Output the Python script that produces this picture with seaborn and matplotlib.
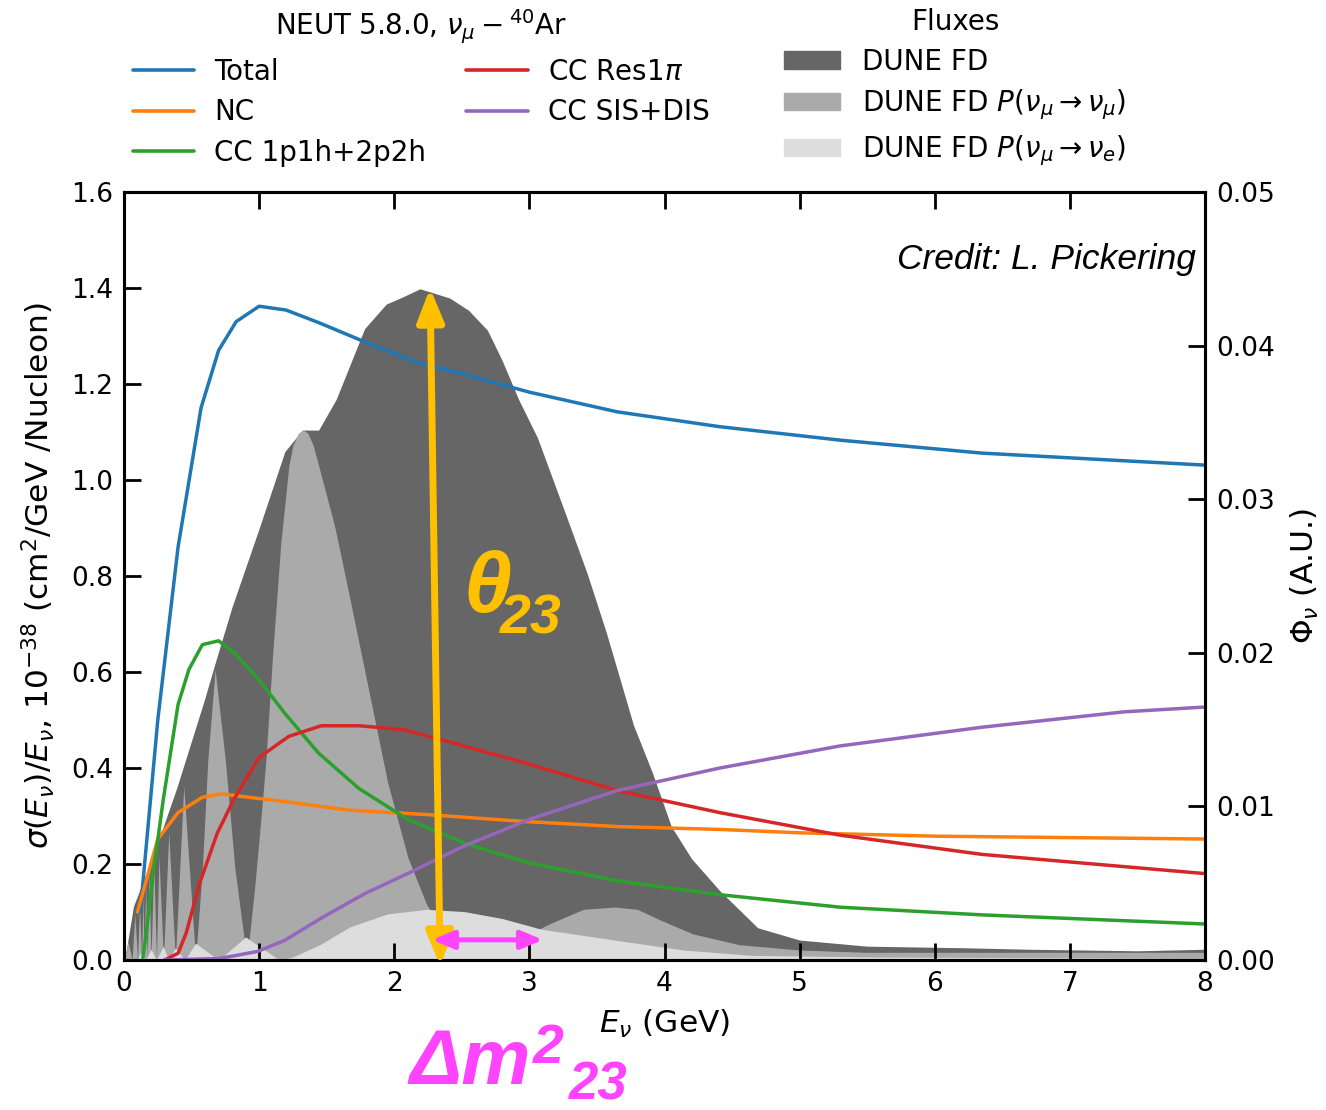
import numpy as np
import pandas as pd
import matplotlib.pyplot as plt
import seaborn as sns
from matplotlib.lines import Line2D
from matplotlib.patches import Patch

# cross sections (10^-38 cm^2/GeV/nucleon)
total_e = [0.12, 0.25, 0.40, 0.57, 0.70, 0.83, 1.00, 1.20, 1.44, 1.78, 2.15, 2.52, 3.00, 3.65, 4.41, 5.30, 6.35, 8.00]
total_v = [0.10, 0.50, 0.86, 1.15, 1.27, 1.33, 1.362, 1.354, 1.328, 1.288, 1.247, 1.22, 1.183, 1.142, 1.111, 1.083, 1.056, 1.031]

nc_e = [0.10, 0.25, 0.40, 0.58, 0.72, 1.19, 1.67, 2.24, 2.94, 3.65, 4.41, 5.00, 6.00, 8.00]
nc_v = [0.10, 0.252, 0.307, 0.339, 0.346, 0.33, 0.312, 0.303, 0.289, 0.278, 0.272, 0.265, 0.258, 0.252]

ccqe_e = [0.14, 0.17, 0.22, 0.25, 0.29, 0.40, 0.48, 0.58, 0.70, 0.82, 0.99, 1.19, 1.44, 1.74, 2.10, 2.52, 3.00, 3.65, 4.41, 5.30, 6.35, 8.00]
ccqe_v = [0.005, 0.069, 0.194, 0.25, 0.333, 0.532, 0.605, 0.657, 0.665, 0.639, 0.587, 0.514, 0.431, 0.357, 0.293, 0.243, 0.202, 0.165, 0.136, 0.11, 0.094, 0.075]

res_e = [0.30, 0.40, 0.46, 0.56, 0.69, 0.81, 1.00, 1.22, 1.46, 1.74, 2.07, 2.36, 3.00, 3.65, 4.41, 5.30, 6.35, 8.00]
res_v = [0.0, 0.014, 0.056, 0.16, 0.264, 0.333, 0.422, 0.466, 0.488, 0.488, 0.48, 0.458, 0.408, 0.353, 0.307, 0.26, 0.22, 0.18]

dis_e = [0.30, 0.70, 0.82, 0.99, 1.19, 1.47, 1.78, 2.12, 2.52, 3.00, 3.65, 4.41, 5.30, 6.35, 7.40, 8.00]
dis_v = [0.0, 0.003, 0.009, 0.018, 0.041, 0.089, 0.138, 0.183, 0.238, 0.293, 0.353, 0.40, 0.446, 0.485, 0.517, 0.527]

# fluxes (A.U.)
fd_e = [0.0, 0.02, 0.07, 0.22, 0.39, 0.59, 0.68, 0.80, 1.00, 1.19, 1.32, 1.44, 1.57, 1.78, 1.94, 2.07, 2.19,
        2.41, 2.55, 2.69, 2.80, 2.92, 3.06, 3.29, 3.43, 3.57, 3.77, 3.91, 4.05, 4.20, 4.41, 4.69, 5.00, 5.50,
        6.20, 6.70, 7.50, 8.00]
fd_f = [0.0, 0.0008, 0.0035, 0.0069, 0.0112, 0.0168, 0.0195, 0.0230, 0.0281, 0.0331, 0.0345, 0.0345, 0.0365,
        0.0411, 0.0427, 0.0432, 0.0437, 0.0431, 0.0423, 0.041, 0.039, 0.0365, 0.034, 0.0285, 0.0251, 0.0213,
        0.0153, 0.0122, 0.0087, 0.0066, 0.0045, 0.0021, 0.0013, 0.0009, 0.0008, 0.0007, 0.0006, 0.0007]

mumu_e = [0.0, 0.03, 0.06, 0.08, 0.10, 0.115, 0.13, 0.14, 0.15, 0.16, 0.172, 0.185, 0.20, 0.22, 0.24, 0.258,
          0.292, 0.331, 0.38, 0.442, 0.53, 0.58, 0.62, 0.674, 0.75, 0.82, 0.91, 0.97, 1.02, 1.05, 1.10, 1.16,
          1.22, 1.25, 1.29, 1.327, 1.36, 1.40, 1.44, 1.56, 1.67, 1.81, 1.95, 2.10, 2.24, 2.40, 2.60, 2.80,
          3.00, 3.16, 3.40, 3.63, 3.80, 3.97, 4.21, 4.55, 5.00, 5.50, 6.50, 8.00]
mumu_f = [0.0, 0.0012, 0.0, 0.0030, 0.0, 0.0036, 0.0, 0.0042, 0.0, 0.0050, 0.0, 0.0058, 0.0, 0.0065, 0.0,
          0.0068, 0.0, 0.0083, 0.0, 0.0113, 0.0, 0.006, 0.013, 0.0189, 0.013, 0.006, 0.0, 0.005, 0.0099,
          0.013, 0.0199, 0.0271, 0.0322, 0.0335, 0.0343, 0.0345, 0.0343, 0.0335, 0.0322, 0.0282, 0.0236,
          0.0176, 0.0116, 0.0067, 0.0036, 0.0015, 0.0005, 0.0010, 0.0017, 0.0024, 0.0033, 0.00345, 0.0033,
          0.0026, 0.0017, 0.0010, 0.00065, 0.0005, 0.0005, 0.0005]

mue_e = [0.0, 0.10, 0.12, 0.16, 0.20, 0.24, 0.29, 0.33, 0.38, 0.45, 0.53, 0.70, 0.90, 1.00, 1.15, 1.25, 1.45,
         1.67, 1.95, 2.24, 2.52, 2.80, 3.09, 3.40, 3.63, 4.14, 4.65, 5.50, 8.00]
mue_f = [0.0, 0.0, 0.0005, 0.0, 0.0007, 0.0, 0.0009, 0.0, 0.0008, 0.0, 0.0011, 0.0, 0.0015, 0.0009, 0.0,
         0.0002, 0.001, 0.00215, 0.003, 0.0033, 0.00315, 0.0027, 0.002, 0.0016, 0.0013, 0.00065, 0.0003,
         0.0002, 0.0001]

labels = ['Total', 'NC', 'CC 1p1h+2p2h', r'CC Res1$\pi$', 'CC SIS+DIS']
colors = ['#1f77b4', '#ff7f0e', '#2ca02c', '#d62728', '#9467bd']
series = [(total_e, total_v), (nc_e, nc_v), (ccqe_e, ccqe_v), (res_e, res_v), (dis_e, dis_v)]

df = pd.concat([pd.DataFrame({'E': e, 'xsec': v, 'channel': lab})
                for lab, (e, v) in zip(labels, series)], ignore_index=True)

sns.set_style('ticks')
plt.rcParams['font.family'] = ['DejaVu Sans']
plt.rcParams['mathtext.fontset'] = 'dejavusans'
plt.rcParams.update({'text.color': 'black', 'axes.labelcolor': 'black',
                     'xtick.color': 'black', 'ytick.color': 'black', 'axes.edgecolor': 'black'})

fig = plt.figure(figsize=(13.26, 11.10), dpi=100)
ax = fig.add_axes([124 / 1326, 1 - 960 / 1110, (1205 - 124) / 1326, (960 - 192) / 1110])
ax2 = ax.twinx()

# fluxes behind the cross sections
ax2.fill_between(fd_e, 0, fd_f, color='#666666', lw=0)
ax2.fill_between(mumu_e, 0, mumu_f, color='#aaaaaa', lw=0)
ax2.fill_between(mue_e, 0, mue_f, color='#dddddd', lw=0)
ax2.set_ylim(0, 0.05)
ax2.set_yticks([0, 0.01, 0.02, 0.03, 0.04, 0.05])
ax2.set_yticklabels(['0.00', '0.01', '0.02', '0.03', '0.04', '0.05'])
ax2.set_ylabel(r'$\Phi_\nu$ (A.U.)', fontsize=22.5, labelpad=10)

ax.set_zorder(ax2.get_zorder() + 1)
ax.patch.set_visible(False)

sns.lineplot(data=df, x='E', y='xsec', hue='channel', hue_order=labels, palette=colors,
             sort=False, estimator=None, lw=2.5, legend=False, ax=ax)
ax.set_xlim(0, 8)
ax.set_ylim(0, 1.6)
ax.set_xticks(range(9))
ax.set_yticks(np.arange(0, 1.61, 0.2))
ax.set_yticklabels([f'{t:.1f}' for t in np.arange(0, 1.61, 0.2)])
ax.set_xlabel(r'$E_\nu$ (GeV)', fontsize=22.5, labelpad=8)
ax.set_ylabel(r'$\sigma(E_\nu)/E_\nu$, $10^{-38}$ (cm$^2$/GeV /Nucleon)', fontsize=22.5, labelpad=10)

ax.tick_params(axis='both', direction='in', length=12, width=2, labelsize=19, pad=8, top=True, right=False)
ax2.tick_params(axis='y', direction='in', length=12, width=2, labelsize=19, pad=8)
for a in (ax, ax2):
    for s in a.spines.values():
        s.set_linewidth(2.2)
        s.set_color('black')

ax.text(7.93, 1.46, 'Credit: L. Pickering', fontsize=25.5, style='italic', ha='right', va='center',
        family=['Liberation Sans', 'DejaVu Sans'])

# oscillation annotations
ax.annotate('', xy=(2.265, 1.40), xytext=(2.34, -0.012), annotation_clip=False, zorder=10,
            arrowprops=dict(arrowstyle='<|-|>,head_length=1.25,head_width=0.5', lw=5,
                            color='#ffc000', mutation_scale=16, shrinkA=0, shrinkB=0))
ax.annotate('', xy=(2.28, 0.042), xytext=(3.10, 0.042), zorder=10,
            arrowprops=dict(arrowstyle='<|-|>,head_length=1.3,head_width=0.55', lw=3.6,
                            color='#ff44ff', mutation_scale=10, shrinkA=0, shrinkB=0))

gfont = ['Liberation Sans', 'DejaVu Sans']
fig.text(487 / 1326, 1 - 590 / 1110, '\u03b8', fontsize=62, color='#ffc000', style='italic',
         weight='bold', ha='center', va='center', family=gfont)
fig.text(531 / 1326, 1 - 620 / 1110, '23', fontsize=40, color='#ffc000', style='italic',
         weight='bold', ha='center', va='center', family=gfont)

fig.text(470 / 1326, 1 - 1063 / 1110, '\u0394m', fontsize=56, color='#ff44ff', style='italic',
         weight='bold', ha='center', va='center', family=gfont)
fig.text(548 / 1326, 1 - 1049 / 1110, '2', fontsize=40, color='#ff44ff', style='italic',
         weight='bold', ha='center', va='center', family=gfont)
fig.text(598 / 1326, 1 - 1086 / 1110, '23', fontsize=38, color='#ff44ff', style='italic',
         weight='bold', ha='center', va='center', family=gfont)

# legends
line_handles = [Line2D([], [], color=c, lw=2.6) for c in colors]
fig.legend(line_handles, labels, title=r'NEUT 5.8.0, $\nu_\mu - {}^{40}$Ar', ncol=2, frameon=False,
           loc='upper left', bbox_to_anchor=(133 / 1326, 1 - 7 / 1110), borderaxespad=0, borderpad=0,
           fontsize=20, title_fontsize=20, handlelength=2.2, handletextpad=0.72,
           columnspacing=1.45, labelspacing=0.45)

patch_handles = [Patch(color='#666666'), Patch(color='#aaaaaa'), Patch(color='#dddddd')]
flux_labels = ['DUNE FD', r'DUNE FD $P(\nu_\mu \rightarrow \nu_\mu)$', r'DUNE FD $P(\nu_\mu \rightarrow \nu_e)$']
fig.legend(patch_handles, flux_labels, title='Fluxes', frameon=False,
           loc='upper left', bbox_to_anchor=(784 / 1326, 1 - 8 / 1110), borderaxespad=0, borderpad=0,
           fontsize=20, title_fontsize=20, handlelength=2.0, handleheight=0.6, handletextpad=0.8,
           labelspacing=0.42)

fig.savefig('out.png', dpi=100)
